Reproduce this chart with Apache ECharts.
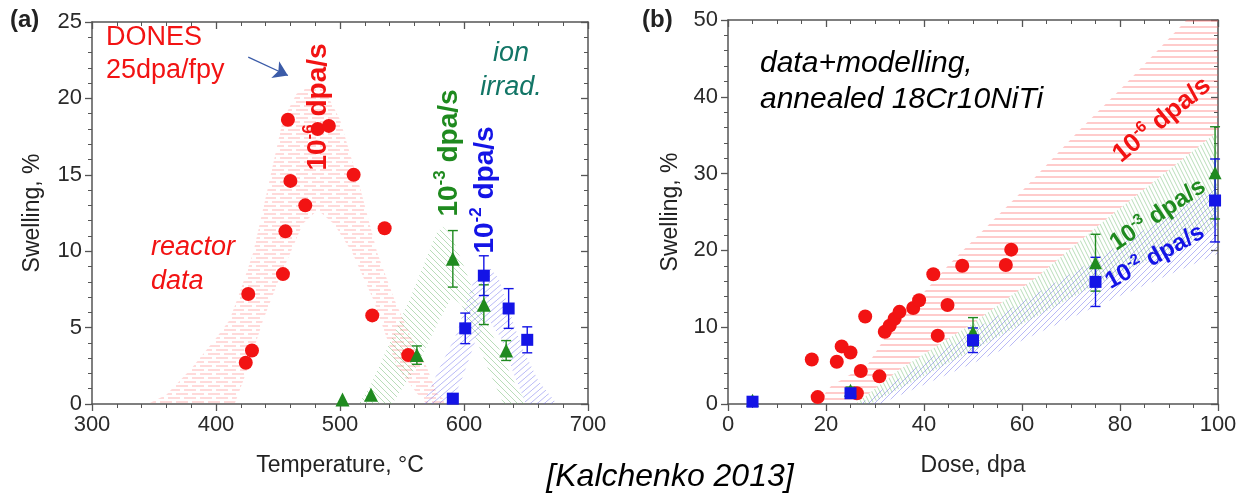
<!DOCTYPE html>
<html>
<head>
<meta charset="utf-8">
<title>Swelling vs temperature and dose</title>
<script src="https://cdn.jsdelivr.net/npm/echarts@6/dist/echarts.min.js"></script>
<style>
  html, body { margin: 0; padding: 0; background: #fff; }
  #chart { width: 1236px; height: 497px; }
</style>
</head>
<body>
<div id="chart"></div>
<script>
'use strict';

// ---- (a) swelling vs temperature ----
var reactorT = [424, 429, 426, 454, 456, 460, 458, 472, 482, 491, 511, 526, 536, 555];
var reactorS = [2.7, 3.5, 7.2, 8.5, 11.3, 14.6, 18.6, 13.0, 18.0, 18.2, 15.0, 5.8, 11.5, 3.2];

var ion3T = [502, 525, 562, 591, 616, 634];
var ion3S = [0.3, 0.6, 3.2, 9.5, 6.5, 3.5];
var ion3Err = [0, 0, 0.6, 1.85, 1.3, 0.65];

var ion2T = [591, 601, 616, 636, 651];
var ion2S = [0.35, 4.95, 8.4, 6.25, 4.2];
var ion2Err = [0, 1.0, 1.3, 1.3, 0.85];

// hatched model bands (upper / lower edge)
var bandA6UpT = [345, 360, 380, 400, 411, 420, 430, 442, 454, 465, 478, 488, 500, 516, 530, 544, 557, 570, 578, 588];
var bandA6UpS = [0, 0.6, 2.3, 4.3, 5.5, 7.5, 9.9, 14.2, 18.6, 20.3, 20.9, 20.5, 18.6, 14.2, 9.9, 6.8, 4.4, 2.4, 0.7, 0];
var bandA6LoT = [415, 425, 438, 450, 460, 470, 482, 495, 510, 527, 546, 562, 570];
var bandA6LoS = [0, 2.2, 5.5, 8.0, 9.9, 11.8, 12.7, 11.8, 9.9, 6.8, 2.4, 0.7, 0];

var bandA3UpT = [515, 524, 540, 556, 570, 578, 583, 590, 600, 610, 620, 629, 637, 645, 652];
var bandA3UpS = [0, 1.1, 4.0, 6.8, 9.6, 11.2, 11.6, 11.0, 9.0, 6.8, 5.0, 3.5, 2.0, 0.7, 0];
var bandA3LoT = [542, 562, 580, 590, 598, 607, 620, 632];
var bandA3LoS = [0, 2.5, 5.5, 7.0, 6.5, 4.8, 2.2, 0];

var bandA2UpT = [567, 580, 594, 607, 614, 621, 628, 634, 641, 648, 660, 675];
var bandA2UpS = [0, 2.3, 4.6, 7.9, 8.7, 8.9, 8.2, 6.8, 5.0, 3.5, 1.5, 0];
var bandA2LoT = [590, 600, 610, 620, 630, 640, 650];
var bandA2LoS = [0, 2.0, 4.3, 5.5, 4.3, 2.0, 0];

// ---- (b) swelling vs dose ----
var doseReactor = [17.1, 18.3, 22.2, 23.2, 25.0, 26.3, 27.1, 28.0, 30.9, 32.0, 33.0, 34.0, 35.0, 37.8, 39.0, 41.9, 42.8, 44.8, 47.8, 56.7, 57.8];
var swellReactor = [5.8, 0.9, 5.5, 7.5, 6.7, 1.4, 4.3, 11.4, 3.6, 9.4, 10.2, 11.1, 12.0, 12.5, 13.5, 16.9, 8.9, 12.9, 18.0, 18.1, 20.1];

var dose3 = [5, 25, 50, 75, 99.4];
var swell3 = [0.5, 1.8, 9.4, 18.4, 30.1];
var err3 = [0, 0.4, 1.85, 3.7, 6.0];

var dose2 = [5, 25, 50, 75, 99.4];
var swell2 = [0.3, 1.4, 8.3, 15.9, 26.5];
var err2 = [0, 0.5, 1.6, 3.2, 5.4];

var bandB6UpD = [18, 21, 28.7, 33, 38.5, 45.3, 58.9, 71.8, 80.6, 93.6, 100];
var bandB6UpS = [0, 2.3, 5.3, 9.6, 13.5, 18.3, 27, 35.7, 41.3, 50, 50];
var bandB6LoD = [26, 35, 50, 63, 77, 91, 100];
var bandB6LoS = [0, 4.5, 10.5, 16.5, 24, 31, 35.5];

var bandB3UpD = [26, 35, 50, 63, 77, 91, 100];
var bandB3UpS = [0, 4.5, 10.5, 16.5, 24, 31, 35.5];
var bandB3LoD = [29, 50, 75, 100];
var bandB3LoS = [0, 7, 15.5, 23];

var bandB2UpD = [27, 50, 75, 100];
var bandB2UpS = [0, 9.6, 18.8, 28.5];
var bandB2LoD = [31, 50, 75, 100];
var bandB2LoS = [0, 5.3, 12.7, 19.6];

var FONT = '"Liberation Sans", Arial, sans-serif';
var RED = '#f21313', GREEN = '#1f8a1f', BLUE = '#1414e6', TEAL = '#127566';
var axisColor = '#555';

function zip(a, b, c) {
  return a.map(function (v, i) { return c ? [v, b[i], c[i]] : [v, b[i]]; });
}

// small canvas tiles used as hatch fills
function hatch(kind, color, w, h, lw) {
  var c = document.createElement('canvas');
  c.width = w; c.height = h;
  var g = c.getContext('2d');
  g.strokeStyle = color;
  g.lineWidth = lw;
  g.beginPath();
  if (kind === 'dash') {
    // staggered short dashes, two rows per tile
    g.moveTo(0, h / 4); g.lineTo(w * 0.75, h / 4);
    g.moveTo(w * 0.5, h * 3 / 4); g.lineTo(w, h * 3 / 4);
    g.moveTo(0, h * 3 / 4); g.lineTo(w * 0.25, h * 3 / 4);
  } else if (kind === 'h') {
    g.moveTo(0, h / 2); g.lineTo(w, h / 2);
  } else {
    for (var k = -1; k <= 1; k++) {
      if (kind === 'back') { g.moveTo(k * w, 0); g.lineTo(k * w + w, h); }
      else { g.moveTo(k * w, h); g.lineTo(k * w + w, 0); }
    }
  }
  g.stroke();
  return { image: c, repeat: 'repeat' };
}

function band(xi, upX, upY, loX, loY, fill) {
  return {
    type: 'custom', xAxisIndex: xi, yAxisIndex: xi, z: 1, silent: true, clip: true,
    data: [[upX[0], upY[0]]],
    renderItem: function (params, api) {
      var pts = [], i;
      for (i = 0; i < upX.length; i++) pts.push(api.coord([upX[i], upY[i]]));
      for (i = loX.length - 1; i >= 0; i--) pts.push(api.coord([loX[i], loY[i]]));
      return { type: 'polygon', shape: { points: pts }, style: { fill: fill, stroke: null } };
    }
  };
}

function errBars(xi, data, color) {
  return {
    type: 'custom', xAxisIndex: xi, yAxisIndex: xi, z: 3, silent: true,
    data: data,
    encode: { x: 0, y: 1 },
    renderItem: function (params, api) {
      var x = api.value(0), y = api.value(1), e = api.value(2);
      if (!e) return null;
      var hi = api.coord([x, y + e]), lo = api.coord([x, y - e]);
      var st = { stroke: color, lineWidth: 1.4 };
      return { type: 'group', children: [
        { type: 'line', shape: { x1: hi[0], y1: hi[1], x2: lo[0], y2: lo[1] }, style: st },
        { type: 'line', shape: { x1: hi[0] - 5, y1: hi[1], x2: hi[0] + 5, y2: hi[1] }, style: st },
        { type: 'line', shape: { x1: lo[0] - 5, y1: lo[1], x2: lo[0] + 5, y2: lo[1] }, style: st }
      ] };
    }
  };
}

function dots(xi, data, symbol, size, color) {
  return {
    type: 'scatter', xAxisIndex: xi, yAxisIndex: xi, z: 4,
    symbol: symbol, symbolSize: size, data: data,
    itemStyle: { color: color, opacity: 1 }
  };
}

function mainAxis(grid, pos, min, max, step, minor, name, gap) {
  return {
    type: 'value', gridIndex: grid, position: pos, min: min, max: max, interval: step,
    name: name, nameLocation: 'middle', nameGap: gap,
    nameTextStyle: { fontSize: 23, color: '#222', fontFamily: FONT },
    axisLine: { show: true, onZero: false, lineStyle: { color: axisColor, width: 1.5 } },
    axisTick: { show: true, inside: false, length: 7, lineStyle: { color: axisColor, width: 1.3 } },
    minorTick: { show: true, splitNumber: minor, length: 4, lineStyle: { color: axisColor, width: 1 } },
    axisLabel: { fontSize: 22, color: '#2a2a2a', margin: 10, fontFamily: FONT },
    splitLine: { show: false }, minorSplitLine: { show: false }
  };
}

function mirrorAxis(grid, pos, min, max, step, minor) {
  return {
    type: 'value', gridIndex: grid, position: pos, min: min, max: max, interval: step,
    axisLine: { show: true, onZero: false, lineStyle: { color: axisColor, width: 1.5 } },
    axisTick: { show: true, inside: true, length: 7, lineStyle: { color: axisColor, width: 1.3 } },
    minorTick: { show: true, splitNumber: minor, length: 4, lineStyle: { color: axisColor, width: 1 } },
    axisLabel: { show: false }, splitLine: { show: false }
  };
}

function label(x, y, text, size, color, extra) {
  var st = { text: text, fontSize: size, fontFamily: FONT, fill: color, align: 'left', verticalAlign: 'middle' };
  for (var k in (extra || {})) st[k] = extra[k];
  return { type: 'text', x: x, y: y, z: 100, silent: true, style: st };
}

function rateLabel(x, y, deg, exp, color, size) {
  return {
    type: 'text', x: x, y: y, rotation: deg * Math.PI / 180, z: 100, silent: true,
    style: {
      text: '{m|10}{s|' + exp + '}{m| dpa/s}', align: 'center', verticalAlign: 'middle',
      rich: {
        m: { fontSize: size, fontWeight: 'bold', fontFamily: FONT, fill: color, lineHeight: Math.round(size * 1.2) },
        s: { fontSize: Math.round(size * 0.62), fontWeight: 'bold', fontFamily: FONT, fill: color,
             lineHeight: Math.round(size * 0.7), verticalAlign: 'top' }
      }
    }
  };
}

var chart = echarts.init(document.getElementById('chart'), null, { renderer: 'canvas' });

var option = {
  animation: false,
  backgroundColor: '#fff',
  grid: [
    { left: 92, top: 22, width: 496, height: 382, outerBoundsMode: 'none' },
    { left: 728, top: 20, width: 490, height: 384, outerBoundsMode: 'none' }
  ],
  xAxis: [
    mainAxis(0, 'bottom', 300, 700, 100, 5, 'Temperature, °C', 50),
    mainAxis(1, 'bottom', 0, 100, 20, 4, 'Dose, dpa', 50),
    mirrorAxis(0, 'top', 300, 700, 100, 5),
    mirrorAxis(1, 'top', 0, 100, 20, 4)
  ],
  yAxis: [
    mainAxis(0, 'left', 0, 25, 5, 5, 'Swelling, %', 48),
    mainAxis(1, 'left', 0, 50, 10, 5, 'Swelling, %', 46),
    mirrorAxis(0, 'right', 0, 25, 5, 5),
    mirrorAxis(1, 'right', 0, 50, 10, 5)
  ],
  series: [
    band(0, bandA6UpT, bandA6UpS, bandA6LoT, bandA6LoS, hatch('dash', 'rgba(255,90,90,0.45)', 16, 8, 1.2)),
    band(0, bandA3UpT, bandA3UpS, bandA3LoT, bandA3LoS, hatch('back', 'rgba(100,180,100,0.45)', 6, 6, 1)),
    band(0, bandA2UpT, bandA2UpS, bandA2LoT, bandA2LoS, hatch('fwd', 'rgba(100,100,235,0.45)', 7, 6, 1)),
    band(1, bandB6UpD, bandB6UpS, bandB6LoD, bandB6LoS, hatch('h', 'rgba(255,90,90,0.45)', 8, 6, 1.4)),
    band(1, bandB3UpD, bandB3UpS, bandB3LoD, bandB3LoS, hatch('back', 'rgba(100,180,100,0.45)', 4, 8, 1)),
    band(1, bandB2UpD, bandB2UpS, bandB2LoD, bandB2LoS, hatch('fwd', 'rgba(100,100,235,0.45)', 6, 6, 1)),

    errBars(0, zip(ion3T, ion3S, ion3Err), GREEN),
    errBars(0, zip(ion2T, ion2S, ion2Err), BLUE),
    errBars(1, zip(dose3, swell3, err3), GREEN),
    errBars(1, zip(dose2, swell2, err2), BLUE),

    (function () {
      var s = dots(0, zip(reactorT, reactorS), 'circle', 14, RED);
      s.markLine = {
        silent: true, symbol: ['none', 'arrow'], symbolSize: 14,
        label: { show: false },
        lineStyle: { color: '#3b5ba8', width: 1.3, type: 'solid', opacity: 1 },
        data: [[{ coord: [426, 22.7] }, { coord: [458, 21.5] }]]
      };
      return s;
    })(),
    dots(0, zip(ion3T, ion3S), 'triangle', 14, GREEN),
    dots(0, zip(ion2T, ion2S), 'rect', 12, BLUE),
    dots(1, zip(doseReactor, swellReactor), 'circle', 14, RED),
    dots(1, zip(dose3, swell3), 'triangle', 13, GREEN),
    dots(1, zip(dose2, swell2), 'rect', 12, BLUE)
  ],
  graphic: [
    label(10, 20, '(a)', 24, '#222', { fontWeight: 'bold' }),
    label(642, 20, '(b)', 24, '#222', { fontWeight: 'bold' }),
    label(106, 38, 'DONES', 27, RED),
    label(106, 71, '25dpa/fpy', 27, RED),
    label(151, 247, 'reactor', 27, RED, { fontStyle: 'italic' }),
    label(151, 281, 'data', 27, RED, { fontStyle: 'italic' }),
    label(511, 53, 'ion', 27, TEAL, { fontStyle: 'italic', align: 'center' }),
    label(511, 87, 'irrad.', 27, TEAL, { fontStyle: 'italic', align: 'center' }),
    label(760, 64, 'data+modelling,', 30, '#000', { fontStyle: 'italic' }),
    label(760, 100, 'annealed 18Cr10NiTi', 30, '#000', { fontStyle: 'italic' }),
    label(670, 477, '[Kalchenko 2013]', 32, '#000', { fontStyle: 'italic', align: 'center' }),
    rateLabel(318, 107, 90, '-6', RED, 28),
    rateLabel(449, 153, 90, '-3', GREEN, 28),
    rateLabel(485, 190, 90, '-2', BLUE, 28),
    rateLabel(1162, 120, 39.5, '-6', RED, 26),
    rateLabel(1158, 215, 34, '-3', GREEN, 24),
    rateLabel(1155, 257, 29, '-2', BLUE, 24)
  ]
};

chart.setOption(option);
</script>
</body>
</html>
